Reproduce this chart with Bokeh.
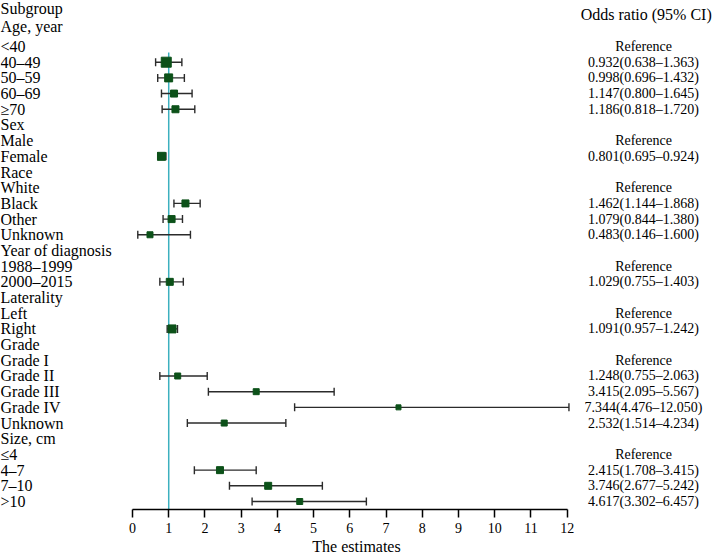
from bokeh.plotting import figure
from bokeh.models import Range1d, FixedTicker, Whisker, TeeHead, ColumnDataSource
from bokeh.core.properties import value
from bokeh.embed import file_html
from bokeh.resources import INLINE

# ---------------- data ----------------
subgroups = ["Age, year", "<40", "40–49", "50–59", "60–69", "≥70",
             "Sex", "Male", "Female",
             "Race", "White", "Black", "Other", "Unknown",
             "Year of diagnosis", "1988–1999", "2000–2015",
             "Laterality", "Left", "Right",
             "Grade", "Grade I", "Grade II", "Grade III", "Grade IV", "Unknown",
             "Size, cm", "≤4", "4–7", "7–10", ">10"]
# h = header, r = reference level, e = estimate
kinds = ["h", "r", "e", "e", "e", "e",
         "h", "r", "e",
         "h", "r", "e", "e", "e",
         "h", "r", "e",
         "h", "r", "e",
         "h", "r", "e", "e", "e", "e",
         "h", "r", "e", "e", "e"]
odds = [None, None, 0.932, 0.998, 1.147, 1.186,
        None, None, 0.801,
        None, None, 1.462, 1.079, 0.483,
        None, None, 1.029,
        None, None, 1.091,
        None, None, 1.248, 3.415, 7.344, 2.532,
        None, None, 2.415, 3.746, 4.617]
ci_low = [None, None, 0.638, 0.696, 0.800, 0.818,
          None, None, 0.695,
          None, None, 1.144, 0.844, 0.146,
          None, None, 0.755,
          None, None, 0.957,
          None, None, 0.755, 2.095, 4.476, 1.514,
          None, None, 1.708, 2.677, 3.302]
ci_high = [None, None, 1.363, 1.432, 1.645, 1.720,
           None, None, 0.924,
           None, None, 1.868, 1.380, 1.600,
           None, None, 1.403,
           None, None, 1.242,
           None, None, 2.063, 5.567, 12.050, 4.234,
           None, None, 3.415, 5.242, 6.457]
box_size = [None, None, 10, 8, 7, 7,
            None, None, 8,
            None, None, 7, 7, 6,
            None, None, 7,
            None, None, 8,
            None, None, 6, 6, 5, 6,
            None, None, 7, 7, 6]
x_ticks = list(range(0, 13))

# ---------------- layout ----------------
W, H = 712, 557
PX = 36.22           # pixels per unit on x
X0 = 132             # canvas x of value 0
FRAME_H = 509        # canvas y of the axis line
x_start = -X0 / PX
x_end = (W - X0) / PX

ROW0 = 46.0
STEP = 15.69
ys = []
for i in range(len(subgroups)):
    ys.append(26.0 if i == 0 else ROW0 + (i - 1) * STEP)

right_txt = []
for k, o, l, h in zip(kinds, odds, ci_low, ci_high):
    if k == "h":
        right_txt.append("")
    elif k == "r":
        right_txt.append("Reference")
    else:
        right_txt.append(f"{o:.3f}({l:.3f}–{h:.3f})")

est_idx = [i for i, k in enumerate(kinds) if k == "e"]
src = ColumnDataSource(dict(
    y=[ys[i] for i in est_idx],
    est=[odds[i] for i in est_idx],
    lo=[ci_low[i] for i in est_idx],
    hi=[ci_high[i] for i in est_idx],
    size=[box_size[i] for i in est_idx],
))

FONT = value("Liberation Serif")

p = figure(width=W, height=H, output_backend="svg", toolbar_location=None,
           x_range=Range1d(x_start, x_end), y_range=Range1d(FRAME_H, 0),
           y_axis_location=None, x_axis_location="below",
           min_border_left=0, min_border_right=0, min_border_top=0,
           min_border_bottom=H - FRAME_H)
p.outline_line_color = None
p.grid.visible = False
p.background_fill_color = "white"
p.border_fill_color = "white"

# reference line at 1
p.segment(x0=[1], y0=[ys[1] + 6], x1=[1], y1=[FRAME_H],
          line_color="#3cb0bf", line_width=1.5, level="underlay")

# confidence intervals
wh = Whisker(source=src, base="y", lower="lo", upper="hi", dimension="width",
             line_color="#2b2b2b", line_width=1.4, level="underlay",
             upper_head=TeeHead(size=8, line_color="#2b2b2b", line_width=1.4),
             lower_head=TeeHead(size=8, line_color="#2b2b2b", line_width=1.4))
p.add_layout(wh)

# point estimates
p.scatter(x="est", y="y", size="size", marker="square", source=src,
          fill_color="#0c5119", line_color="#0c5119")

# left labels
p.text(x=[x_start] * len(subgroups), y=ys, text=subgroups,
       text_align="left", text_baseline="middle", text_font=FONT,
       text_font_size="16px", text_color="black")
p.text(x=[x_start], y=[8], text=["Subgroup"],
       text_align="left", text_baseline="middle", text_font=FONT,
       text_font_size="16px", text_color="black")

# right column
RX = (643 - X0) / PX
p.text(x=[RX] * len(subgroups), y=ys, text=right_txt,
       text_align="center", text_baseline="middle", text_font=FONT,
       text_font_size="14px", text_color="black")
p.text(x=[x_end - 0.02], y=[14], text=["Odds ratio (95% CI)"],
       text_align="right", text_baseline="middle", text_font=FONT,
       text_font_size="16px", text_color="black")

# x axis
ax = p.xaxis[0]
ax.bounds = (0, 12)
ax.ticker = FixedTicker(ticks=x_ticks)
ax.minor_tick_line_color = None
ax.major_tick_in = 0
ax.major_tick_out = 8
ax.major_tick_line_width = 1.5
ax.axis_line_width = 1.5
ax.axis_line_color = "black"
ax.major_tick_line_color = "black"
ax.major_label_text_font = "Liberation Serif"
ax.major_label_text_font_size = "14px"
ax.major_label_text_color = "black"
ax.major_label_standoff = 5
ax.axis_label = "The estimates"
ax.axis_label_text_font = "Liberation Serif"
ax.axis_label_text_font_size = "16px"
ax.axis_label_text_font_style = "normal"
ax.axis_label_text_color = "black"
ax.axis_label_standoff = 2

open("out.html", "w").write(file_html(p, INLINE))
